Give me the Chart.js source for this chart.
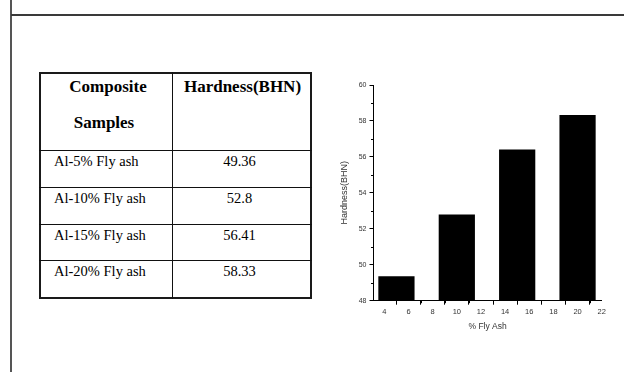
<!DOCTYPE html>
<html>
<head>
<meta charset="utf-8">
<script src="https://cdn.jsdelivr.net/npm/chart.js@4.4.1/dist/chart.umd.min.js"></script>
<style>
html,body{margin:0;padding:0;background:#fff;width:624px;height:372px;overflow:hidden;}
body{position:relative;font-family:"Liberation Serif","Times New Roman",serif;color:#000;}
.vline{position:absolute;left:10px;top:0;width:2px;height:372px;background:#555;}
.hline{position:absolute;left:11px;top:14px;width:613px;height:2px;background:#3a3a3a;}
.tbl{position:absolute;left:39px;top:72px;width:273px;height:227px;box-sizing:border-box;border:2px solid #1a1a1a;}
.ln{position:absolute;background:#111;}
.txt{position:absolute;line-height:1;white-space:nowrap;}
.hd{font-weight:bold;font-size:17px;width:200px;text-align:center;}
.bd{font-size:14.5px;}
.val{font-size:14.5px;width:200px;text-align:center;}
#chartBox{position:absolute;left:330px;top:70px;width:290px;height:270px;}
</style>
</head>
<body>
<div class="vline"></div>
<div class="hline"></div>
<div class="tbl"></div>
<div id="tableLayer"></div>
<div id="chartBox"><canvas id="c" width="290" height="270"></canvas></div>
<script>
// ---- data ----
const headerCol1 = ['Composite', 'Samples'];
const headerCol2 = 'Hardness(BHN)';
const categories = ['Al-5% Fly ash', 'Al-10% Fly ash', 'Al-15% Fly ash', 'Al-20% Fly ash'];
const hardnessText = ['49.36', '52.8', '56.41', '58.33'];
const flyAshPct = [5, 10, 15, 20];
const hardness = [49.36, 52.8, 56.41, 58.33];
const xTicks = [4, 6, 8, 10, 12, 14, 16, 18, 20, 22];
const xMinor = [5, 7, 9, 11, 13, 15, 17, 19, 21];
const yTicks = [48, 50, 52, 54, 56, 58, 60];
const yMinor = [49, 51, 53, 55, 57, 59];
const xTitle = '% Fly Ash';
const yTitle = 'Hardness(BHN)';

// ---- table (text as HTML) ----
const layer = document.getElementById('tableLayer');
function addLine(l, t, w, h) {
  const d = document.createElement('div');
  d.className = 'ln';
  d.style.left = l + 'px'; d.style.top = t + 'px';
  d.style.width = w + 'px'; d.style.height = h + 'px';
  layer.appendChild(d);
}
function addText(cls, text, left, top) {
  const d = document.createElement('div');
  d.className = 'txt ' + cls;
  d.textContent = text;
  d.style.left = left + 'px'; d.style.top = top + 'px';
  layer.appendChild(d);
}
addLine(172, 72, 1, 227);
const rowLines = [150, 187, 224, 260];
rowLines.forEach(t => addLine(39, t, 273, 1));
addText('hd', headerCol1[0], 108 - 100, 78);
addText('hd', headerCol1[1], 104 - 100, 114);
addText('hd', headerCol2, 242.5 - 100, 78);
const rowTops = [154, 190.5, 228, 264];
categories.forEach((c, i) => {
  addText('bd', c, 54, rowTops[i]);
  addText('val', hardnessText[i], 239.5 - 100, rowTops[i]);
});

// ---- chart ----
const minorTicks = {
  id: 'minorTicks',
  afterDraw(c) {
    const { ctx, scales: { x, y } } = c;
    ctx.save();
    ctx.strokeStyle = '#000';
    ctx.lineWidth = 1;
    ctx.beginPath();
    xMinor.forEach(v => {
      const px = Math.round(x.getPixelForValue(v)) + 0.5;
      ctx.moveTo(px, y.bottom); ctx.lineTo(px, y.bottom + 2.5);
    });
    yMinor.forEach(v => {
      const py = Math.round(y.getPixelForValue(v)) + 0.5;
      ctx.moveTo(x.left - 2.5, py); ctx.lineTo(x.left, py);
    });
    ctx.stroke();
    ctx.restore();
  }
};

const txtColor = '#333';
new Chart(document.getElementById('c'), {
  type: 'bar',
  data: {
    datasets: [{
      data: flyAshPct.map((x, i) => ({ x: x, y: hardness[i] })),
      backgroundColor: '#000',
      borderWidth: 0,
      barPercentage: 1.5,
      categoryPercentage: 1.0
    }]
  },
  options: {
    responsive: false,
    animation: false,
    layout: { padding: { top: 15, right: 18.3, left: 0, bottom: 0 } },
    plugins: { legend: { display: false }, tooltip: { enabled: false } },
    scales: {
      x: {
        type: 'linear', min: 3.1, max: 22, offset: false,
        afterBuildTicks: s => { s.ticks = xTicks.map(v => ({ value: v })); },
        afterFit: s => { s.height = 39.3; },
        grid: { drawOnChartArea: false, drawTicks: true, tickLength: 4, color: '#000', lineWidth: 1 },
        border: { display: true, color: '#000', width: 1 },
        ticks: { font: { family: 'Liberation Sans', size: 7.5 }, color: txtColor, padding: 3, maxRotation: 0, autoSkip: false },
        title: { display: true, text: xTitle, font: { family: 'Liberation Sans', size: 8.5 }, color: txtColor, padding: { top: 0, bottom: 7.9 } }
      },
      y: {
        type: 'linear', min: 48, max: 60,
        afterBuildTicks: s => { s.ticks = yTicks.map(v => ({ value: v })); },
        afterFit: s => { s.width = 43.5; },
        grid: { drawOnChartArea: false, drawTicks: true, tickLength: 4, color: '#000', lineWidth: 1 },
        border: { display: true, color: '#000', width: 1 },
        ticks: { font: { family: 'Liberation Sans', size: 7 }, color: txtColor, padding: 3, autoSkip: false },
        title: { display: true, text: yTitle, font: { family: 'Liberation Sans', size: 9 }, color: txtColor, padding: { top: 9.6, bottom: 0 } }
      }
    }
  },
  plugins: [minorTicks]
});
</script>
</body>
</html>
